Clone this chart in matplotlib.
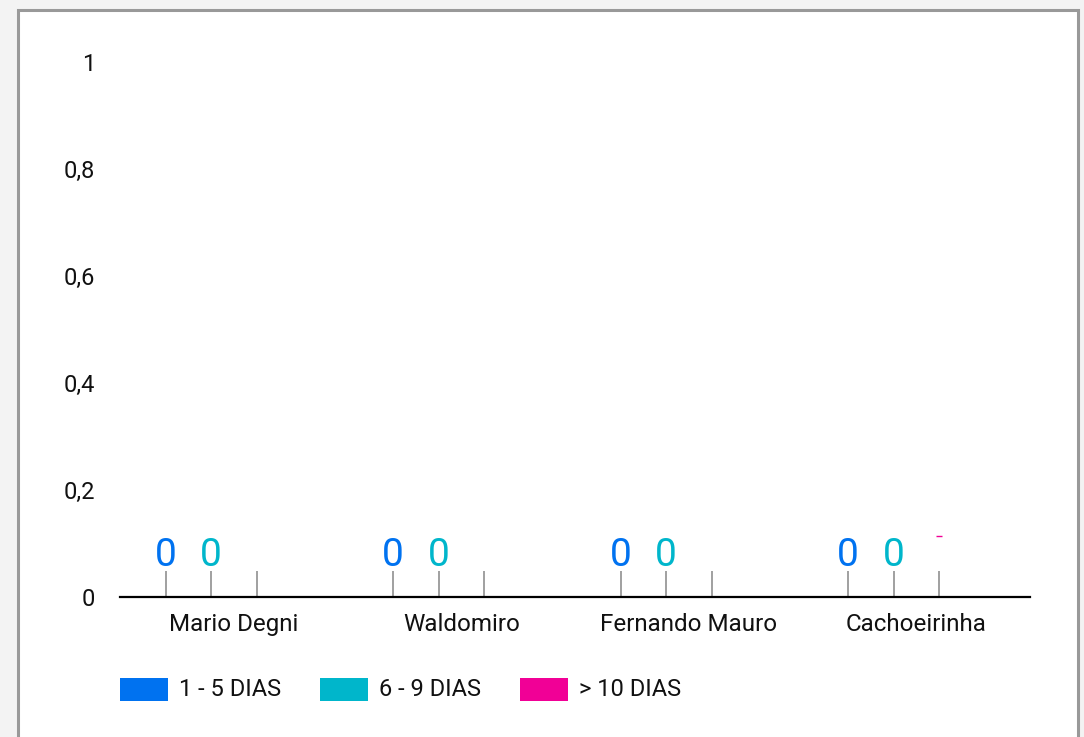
import matplotlib
matplotlib.use("Agg")
import matplotlib.pyplot as plt
from matplotlib.patches import Rectangle
import numpy as np

plt.rcParams['font.family'] = ['Roboto', 'DejaVu Sans']

categories = ["Mario Degni", "Waldomiro", "Fernando Mauro", "Cachoeirinha"]
series_names = ["1 - 5 DIAS", "6 - 9 DIAS", "> 10 DIAS"]
s1 = [0, 0, 0, 0]
s2 = [0, 0, 0, 0]
s3 = [None, None, None, 0]
series = [s1, s2, s3]
colors = ["#0072F0", "#00B6CB", "#F10096"]
yticks = [0, 0.2, 0.4, 0.6, 0.8, 1]

W, H = 1084, 737
FS = 17
fig = plt.figure(figsize=(W / 100, H / 100), dpi=100, facecolor="#F3F3F3")

# white panel with grey border
panel = Rectangle((18 / W, -0.02), 1060 / W, (H - 10) / H + 0.02, transform=fig.transFigure,
                  facecolor="white", edgecolor="#999999", linewidth=2.2, zorder=-10)
fig.patches.append(panel)

ax = fig.add_axes([120 / W, (H - 597) / H, 910 / W, (597 - 62) / H])
ax.set_zorder(5)
ax.set_facecolor("none")
ax.set_xlim(-0.5, 3.5)
ax.set_ylim(0, 1)
for sp in ["top", "right", "left"]:
    ax.spines[sp].set_visible(False)
ax.spines["bottom"].set_color("black")
ax.spines["bottom"].set_linewidth(1.6)

x = np.arange(len(categories))
offsets = [-0.3, -0.1, 0.1]
tick_h = 26 / 535
for s, (vals, off, col) in enumerate(zip(series, offsets, colors)):
    for i, v in enumerate(vals):
        xp = x[i] + off
        ax.vlines(xp, 0, tick_h, color="#999999", linewidth=1.3)
        if v is None:
            continue
        ax.bar(xp, v, width=0.18, color=col)
        if s < 2:
            ax.annotate(f"{v}", (xp, v), xytext=(0, 31 / 1.389), textcoords="offset points",
                        ha="center", va="baseline", fontsize=28, color=col)
        else:
            ax.plot([xp - 0.015, xp + 0.015], [v + 61 / 535] * 2, color=col, linewidth=1.0,
                    solid_capstyle="butt")

ax.set_xticks(x)
ax.set_xticklabels(categories, fontsize=17.4, color="#111111")
ax.tick_params(axis="x", length=0, pad=11.5)
ax.set_yticks(yticks)
ax.set_yticklabels([f"{t:g}".replace(".", ",") for t in yticks], fontsize=FS, color="#111111")
ax.tick_params(axis="y", length=0, pad=25 / 1.389)

# legend
lx = [120, 320, 520]
for name, col, xx in zip(series_names, colors, lx):
    fig.patches.append(Rectangle((xx / W, (H - 701) / H), 48 / W, 23 / H, transform=fig.transFigure,
                                 facecolor=col, edgecolor="none"))
    fig.text((xx + 59) / W, (H - 689.5) / H, name, fontsize=FS, color="#111111",
             ha="left", va="center")

fig.savefig("out.png", dpi=100, facecolor=fig.get_facecolor())
